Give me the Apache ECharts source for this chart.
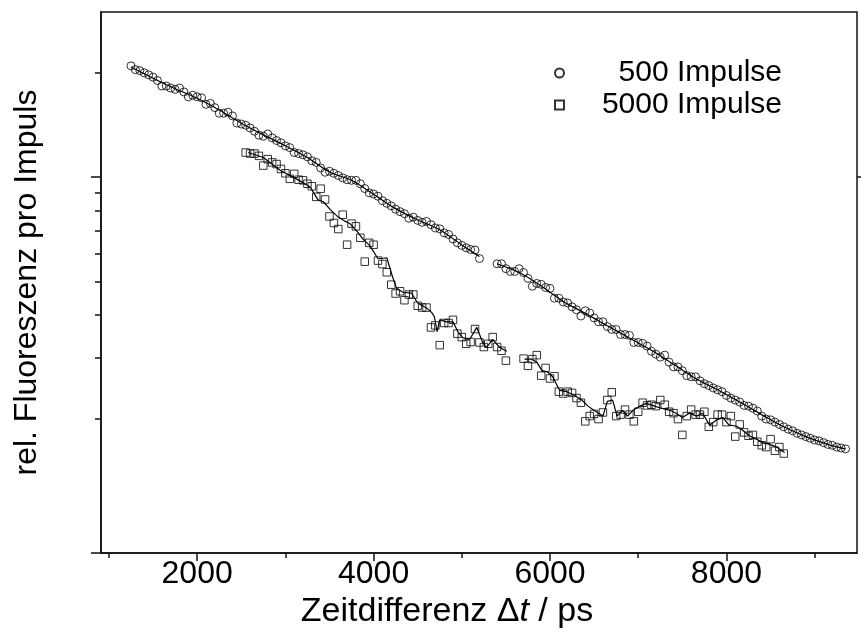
<!DOCTYPE html>
<html><head><meta charset="utf-8">
<script src="https://cdn.jsdelivr.net/npm/echarts@6/dist/echarts.min.js"></script>
<style>html,body{margin:0;padding:0;background:#fff}#c{width:861px;height:634px}</style>
</head><body><div id="c"></div>
<script>
// ---- data (x in ps, y relative fluorescence per pulse) ----
const circX1 = [1250,1300,1350,1400,1450,1500,1550,1600,1650,1700,1750,1800,1850,1900,1950,2000,2050,2100,2150,2200,2250,2300,2350,2400,2450,2500,2550,2600,2650,2700,2750,2800,2850,2900,2950,3000,3050,3100,3150,3200,3250,3300,3350,3400,3450,3500,3550,3600,3650,3700,3750,3800,3850,3900,3950,4000,4050,4100,4150,4200,4250,4300,4350,4400,4450,4500,4550,4600,4650,4700,4750,4800,4850,4900,4950,5000,5050,5100,5150,5200];
const circY1 = [2.097,2.045,2.031,2.001,1.975,1.945,1.902,1.833,1.833,1.809,1.793,1.809,1.763,1.706,1.724,1.706,1.695,1.623,1.633,1.588,1.530,1.530,1.540,1.503,1.433,1.424,1.412,1.387,1.357,1.322,1.313,1.333,1.299,1.276,1.257,1.231,1.217,1.178,1.170,1.160,1.145,1.115,1.103,1.063,1.033,1.040,1.026,1.011,0.995,0.983,0.979,0.979,0.957,0.927,0.901,0.894,0.881,0.855,0.840,0.826,0.808,0.795,0.784,0.761,0.766,0.750,0.740,0.745,0.729,0.713,0.709,0.690,0.683,0.663,0.646,0.635,0.625,0.618,0.616,0.582];
const circX2 = [5400,5450,5500,5550,5600,5650,5700,5750,5800,5850,5900,5950,6000,6050,6100,6150,6200,6250,6300,6350,6400,6450,6500,6550,6600,6650,6700,6750,6800,6850,6900,6950,7000,7050,7100,7150,7200,7250,7300,7350,7400,7450,7500,7550,7600,7650,7700,7750,7800,7850,7900,7950,8000,8050,8100,8150,8200,8250,8300,8350,8400,8450,8500,8550,8600,8650,8700,8750,8800,8850,8900,8950,9000,9050,9100,9150,9200,9250,9300,9350];
const circY2 = [0.562,0.562,0.544,0.534,0.534,0.544,0.530,0.510,0.484,0.493,0.490,0.480,0.477,0.447,0.447,0.436,0.433,0.422,0.414,0.397,0.411,0.405,0.392,0.382,0.382,0.370,0.363,0.363,0.351,0.351,0.349,0.333,0.333,0.331,0.325,0.314,0.308,0.302,0.306,0.292,0.283,0.283,0.276,0.267,0.265,0.265,0.258,0.253,0.250,0.246,0.243,0.240,0.234,0.230,0.227,0.224,0.219,0.218,0.215,0.211,0.204,0.200,0.199,0.196,0.193,0.190,0.187,0.185,0.182,0.180,0.178,0.176,0.174,0.173,0.171,0.169,0.168,0.166,0.165,0.164];
const sqX1 = [2550,2600,2650,2700,2750,2800,2850,2900,2950,3000,3050,3100,3150,3200,3250,3300,3350,3400,3450,3500,3550,3600,3650,3700,3750,3800,3850,3900,3950,4000,4050,4100,4150,4200,4250,4300,4350,4400,4450,4500,4550,4600,4650,4700,4750,4800,4850,4900,4950,5000,5050,5100,5150,5200,5250,5300,5350,5400,5450,5500];
const sqY1 = [1.178,1.170,1.170,1.152,1.080,1.127,1.103,1.091,1.056,1.026,0.989,1.022,0.983,0.979,0.957,0.941,0.877,0.926,0.862,0.770,0.737,0.708,0.779,0.638,0.734,0.721,0.668,0.570,0.646,0.638,0.574,0.561,0.531,0.489,0.461,0.468,0.441,0.458,0.458,0.425,0.420,0.420,0.368,0.373,0.327,0.379,0.379,0.387,0.353,0.345,0.330,0.334,0.364,0.333,0.323,0.330,0.345,0.323,0.315,0.295];
const sqX2 = [5700,5750,5800,5850,5900,5950,6000,6050,6100,6150,6200,6250,6300,6350,6400,6450,6500,6550,6600,6650,6700,6750,6800,6850,6900,6950,7000,7050,7100,7150,7200,7250,7300,7350,7400,7450,7500,7550,7600,7650,7700,7750,7800,7850,7900,7950,8000,8050,8100,8150,8200,8250,8300,8350,8400,8450,8500,8550,8600,8650];
const sqY2 = [0.299,0.285,0.298,0.306,0.267,0.281,0.262,0.266,0.240,0.237,0.240,0.238,0.230,0.223,0.197,0.204,0.207,0.200,0.209,0.227,0.239,0.204,0.206,0.213,0.206,0.197,0.210,0.223,0.219,0.220,0.218,0.227,0.220,0.210,0.208,0.200,0.180,0.204,0.213,0.206,0.206,0.210,0.190,0.196,0.206,0.206,0.196,0.204,0.178,0.193,0.183,0.179,0.180,0.172,0.168,0.166,0.175,0.162,0.166,0.159];
// smoothed curves
const circFitX1 = [1250,1500,1750,2000,2250,2500,2750,3000,3250,3500,3750,4000,4250,4500,4750,5000,5200];
const circFitY1 = [2.08,1.931,1.801,1.691,1.564,1.432,1.325,1.232,1.139,1.035,0.979,0.892,0.811,0.752,0.705,0.637,0.59];
const circFitX2 = [5400,5650,5900,6150,6400,6650,6900,7150,7400,7650,7900,8150,8400,8650,8900,9150,9350];
const circFitY2 = [0.562,0.530,0.485,0.437,0.404,0.372,0.343,0.316,0.288,0.262,0.243,0.224,0.206,0.190,0.178,0.169,0.164];
const sqFitX1 = [2580,2750,2940,3130,3280,3370,3430,3510,3590,3680,3730,3810,3880,3960,4050,4150,4210,4260,4330,4430,4500,4600,4660,4690,4720,4750,4830,4900,4960,5010,5090,5170,5230,5280,5350,5430,5510];
const sqFitY1 = [1.178,1.140,1.047,0.987,0.937,0.860,0.849,0.806,0.770,0.745,0.735,0.698,0.662,0.633,0.581,0.585,0.520,0.478,0.465,0.462,0.433,0.419,0.406,0.395,0.358,0.387,0.382,0.382,0.356,0.344,0.340,0.368,0.336,0.322,0.340,0.322,0.314];
const sqFitX2 = [5710,5790,5850,5910,5970,6030,6110,6190,6280,6360,6430,6510,6600,6650,6710,6760,6820,6880,6940,7020,7090,7160,7260,7360,7430,7500,7580,7660,7730,7810,7890,7960,8030,8110,8180,8260,8340,8410,8490,8570,8660];
const sqFitY2 = [0.298,0.298,0.292,0.276,0.274,0.265,0.242,0.240,0.234,0.227,0.218,0.211,0.204,0.225,0.227,0.204,0.212,0.204,0.212,0.218,0.222,0.219,0.215,0.212,0.208,0.202,0.208,0.204,0.208,0.192,0.199,0.202,0.192,0.191,0.186,0.179,0.175,0.171,0.169,0.166,0.160];
// axes
const seriesNames = ['500 Impulse','5000 Impulse'];
const xRange = [910, 9480];
const xTickLabels = [2000,4000,6000,8000];
const xMinorTicks = [1000,3000,5000,7000,9000];
const yRange = [0.082, 3];
const yMajorTicks = [0.082, 1];
const yMinorTicks = [0.2,0.3,0.4,0.5,0.6,0.7,0.8,0.9,2];
const xTitle = ['Zeitdifferenz Δ', 't', ' / ps'];
const yTitle = 'rel. Fluoreszenz pro Impuls';

const FONT = '"Liberation Sans", Arial, sans-serif';
const zip = (a, b) => a.map((v, i) => [v, b[i]]);
const L = v => Math.log10(v);
const blk = '#111';

const tickAxisY = (ticks, len, pos) => ({
  type: 'value', min: L(yRange[0]), max: L(yRange[1]), position: pos,
  axisLine: {show: false, onZero: false}, axisLabel: {show: false}, splitLine: {show: false},
  axisTick: {show: true, length: len, customValues: ticks.map(L), lineStyle: {color: blk, width: 1.5}}
});

const option = {
  backgroundColor: '#fff',
  animation: false,
  textStyle: {fontFamily: FONT},
  grid: {left: 101, right: 4, top: 12, bottom: 71, show: true, borderColor: blk, borderWidth: 1.5, backgroundColor: 'transparent'},
  legend: {
    data: [
      {name: seriesNames[0], icon: 'circle'},
      {name: seriesNames[1], icon: 'rect'}
    ],
    orient: 'vertical', left: 554, top: 58, padding: 0, itemGap: 2,
    itemWidth: 9, itemHeight: 9,
    formatter: n => '{t|' + n + '}',
    textStyle: {rich: {t: {width: 213, align: 'right', fontSize: 30, lineHeight: 30, color: '#000', fontFamily: FONT}}}
  },
  xAxis: [
    {
      type: 'value', min: xRange[0], max: xRange[1], position: 'bottom',
      axisLine: {show: true, onZero: false, lineStyle: {color: blk, width: 1.5}},
      axisTick: {show: true, length: 8, customValues: xTickLabels, lineStyle: {color: blk, width: 1.5}},
      axisLabel: {show: true, customValues: xTickLabels, formatter: v => String(v), fontSize: 32, color: '#000', margin: 5, fontFamily: FONT},
      splitLine: {show: false},
      name: '{n|' + xTitle[0] + '}{i|' + xTitle[1] + '}{n|' + xTitle[2] + '}', nameLocation: 'middle', nameGap: 38,
      nameTextStyle: {padding: [0, 64, 0, 0], rich: {n: {fontSize: 34, color: '#000', fontFamily: FONT}, i: {fontSize: 34, color: '#000', fontStyle: 'italic', fontFamily: FONT}}}
    },
    {
      type: 'value', min: xRange[0], max: xRange[1], position: 'bottom',
      axisLine: {show: false, onZero: false}, axisLabel: {show: false}, splitLine: {show: false},
      axisTick: {show: true, length: 5, customValues: xMinorTicks, lineStyle: {color: blk, width: 1.5}}
    }
  ],
  yAxis: [
    {
      type: 'log', logBase: 10, min: yRange[0], max: yRange[1], position: 'left',
      axisLine: {show: true, onZero: false, lineStyle: {color: blk, width: 1.5}},
      axisTick: {show: false}, axisLabel: {show: false}, splitLine: {show: false}, minorTick: {show: false},
      name: yTitle, nameLocation: 'middle', nameGap: 58,
      nameTextStyle: {fontSize: 32, color: '#000', fontFamily: FONT}
    },
    tickAxisY(yMinorTicks, 6, 'left'),
    tickAxisY(yMajorTicks, 10, 'left'),
    tickAxisY([1], 5, 'right')
  ],
  series: [
    {name: seriesNames[0], type: 'scatter', symbol: 'circle', symbolSize: 8,
     itemStyle: {color: 'rgba(255,255,255,0)', borderColor: '#000', borderWidth: 1},
     data: zip(circX1, circY1).concat(zip(circX2, circY2)), z: 3},
    {name: seriesNames[1], type: 'scatter', symbol: 'rect', symbolSize: 7.5,
     itemStyle: {color: 'rgba(255,255,255,0)', borderColor: '#000', borderWidth: 1},
     data: zip(sqX1, sqY1).concat(zip(sqX2, sqY2)), z: 3},
    ...[[circFitX1, circFitY1, 0.3], [circFitX2, circFitY2, 0.3], [sqFitX1, sqFitY1, 0], [sqFitX2, sqFitY2, 0]].map(([xs, ys, sm]) => ({
      type: 'line', data: zip(xs, ys), showSymbol: false, symbol: 'none', smooth: sm,
      lineStyle: {color: '#000', width: 1.2}, z: 2, silent: true
    }))
  ]
};
echarts.init(document.getElementById('c'), null, {renderer: 'canvas'}).setOption(option);
</script></body></html>
